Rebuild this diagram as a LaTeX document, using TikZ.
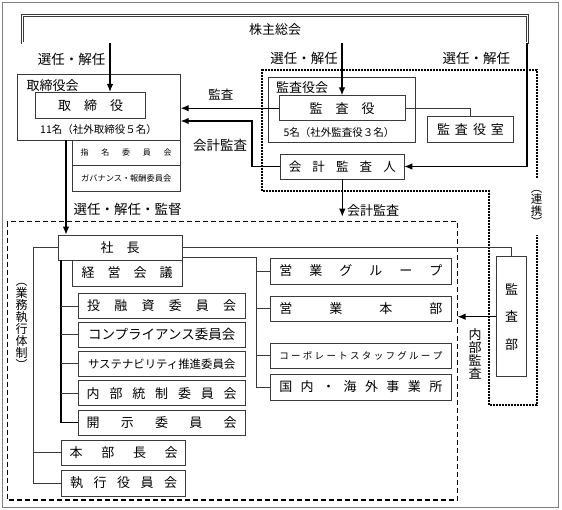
\documentclass[tikz,border=0pt]{standalone}
\usepackage{fontspec}
\setmainfont{Noto Sans CJK JP}
\usetikzlibrary{arrows.meta}

\definecolor{boxline}{HTML}{3A3A3A}
\newcommand{\spr}[2]{\makebox[#1][s]{#2}}
\newcommand{\fs}[1]{\fontsize{#1}{#1}\selectfont}

\begin{document}
\begin{tikzpicture}[x=1pt,y=-1pt,
    box/.style={draw=boxline, line width=0.7pt, inner sep=0pt, font=\fs{13}},
    lbl/.style={inner sep=0pt, font=\fs{13}},
    vtext/.style={inner sep=0pt, align=center, font=\fs{13}},
    arr/.style={line width=1.2pt, -{Latex[length=8pt,width=6.5pt]}},
    conn/.style={draw=boxline, line width=0.7pt}]
            \useasboundingbox (0,0) rectangle (562,510);
            \draw[gray, line width=1pt] (2.5,2.5) rectangle (558,507.5);

            % top
            \node[box, double, double distance=1.5pt, line width=0.6pt, minimum width=505pt, minimum height=27.3pt] (share) at (275,29.3) {株主総会};

            \node[box, minimum width=163pt, minimum height=66pt] (tbdg) at (98.8,107) {};
            \node[lbl, anchor=west] (tbdgl) at (26.5,85.5) {取締役会};
            \node[box, minimum width=110pt, minimum height=26pt] (tbd) at (90.7,105.3) {取　締　役};
            \node[lbl, font=\fs{10.5}] (tbdn) at (98.5,130) {11名（社外取締役５名）};
            \node[box, font=\fs{8}, minimum width=108.3pt, minimum height=25.7pt] (nomi) at (126.2,152.8) {\spr{91pt}{指\hfill 名\hfill 委\hfill 員\hfill 会}};
            \node[box, font=\fs{8.2}, minimum width=108.3pt, minimum height=25.3pt] (gov) at (126.2,178.4) {ガバナンス・報酬委員会};

            \node[box, minimum width=147.4pt, minimum height=64.7pt] (kyg) at (342,109.7) {};
            \node[lbl, anchor=west] (kygl) at (276,87.5) {監査役会};
            \node[box, minimum width=126pt, minimum height=25pt] (ksy) at (342,108.2) {監　査　役};
            \node[lbl, font=\fs{10.5}] (ksyn) at (339,132.7) {5名（社外監査役３名）};
            \node[box, minimum width=85.6pt, minimum height=25.3pt] (kss) at (470.5,129.3) {\spr{67pt}{監\hfill 査\hfill 役\hfill 室}};
            \node[box, font=\fs{12.5}, minimum width=123.3pt, minimum height=25pt] (kkn) at (342.3,166.5) {\spr{107pt}{会\hfill 計\hfill 監\hfill 査\hfill 人}};

            % execution
            \node[box, minimum width=124pt, minimum height=25pt] (shacho) at (120,247.5) {社　長};
            \node[box, minimum width=110pt, minimum height=26pt] (keiei) at (127,273) {経　営　会　議};
            \node[box, minimum width=166.7pt, minimum height=25.5pt] (tyk) at (161.7,306) {\spr{149pt}{投\hfill 融\hfill 資\hfill 委\hfill 員\hfill 会}};
            \node[box, font=\fs{13.5}, minimum width=166.7pt, minimum height=25.5pt] (cmp) at (161.7,334.8) {コンプライアンス委員会};
            \node[box, font=\fs{11.4}, minimum width=166.7pt, minimum height=25.5pt] (sus) at (161.7,363.8) {サステナビリティ推進委員会};
            \node[box, minimum width=166.7pt, minimum height=25pt] (nai) at (161.7,393.2) {\spr{150pt}{内\hfill 部\hfill 統\hfill 制\hfill 委\hfill 員\hfill 会}};
            \node[box, minimum width=166.7pt, minimum height=25.5pt] (kaiji) at (161.7,422.8) {\spr{150pt}{開\hfill 示\hfill 委\hfill 員\hfill 会}};
            \node[box, minimum width=124pt, minimum height=25pt] (hbc) at (123.7,452.5) {\spr{108pt}{本\hfill 部\hfill 長\hfill 会}};
            \node[box, minimum width=124pt, minimum height=26pt] (sky) at (123.7,483) {\spr{107pt}{執\hfill 行\hfill 役\hfill 員\hfill 会}};

            \node[box, minimum width=181.7pt, minimum height=26pt] (eg) at (360.8,271) {\spr{163pt}{営\hfill 業\hfill グ\hfill ル\hfill ー\hfill プ}};
            \node[box, minimum width=181.7pt, minimum height=25.7pt] (eh) at (360.8,308.8) {\spr{163pt}{営\hfill 業\hfill 本\hfill 部}};
            \node[box, font=\fs{9.5}, minimum width=181.7pt, minimum height=25pt] (csg) at (360.8,355.5) {\spr{163pt}{コ\hfill ー\hfill ポ\hfill レ\hfill ー\hfill ト\hfill ス\hfill タ\hfill ッ\hfill フ\hfill グ\hfill ル\hfill ー\hfill プ}};
            \node[box, minimum width=181.7pt, minimum height=26pt] (kkj) at (360.8,387) {\spr{163pt}{国\hfill 内\hfill ・\hfill 海\hfill 外\hfill 事\hfill 業\hfill 所}};
            \node[box, vtext, font=\fontsize{13}{27.5}\selectfont, minimum width=30pt, minimum height=120pt] (kansabu) at (511.7,316.7) {監\\査\\部};

            % labels
            \node[lbl, font=\fs{13.5}] (sn1) at (71.5,59) {選任・解任};
            \node[lbl, font=\fs{13.5}] (sn2) at (304.2,58.3) {選任・解任};
            \node[lbl, font=\fs{13.5}] (sn3) at (476.3,58.3) {選任・解任};
            \node[lbl, font=\fs{12.5}] (ks1) at (220.8,95) {監査};
            \node[lbl, font=\fs{13.5}] (kk1) at (220,145) {会計監査};
            \node[lbl, font=\fs{13.5}] (sk) at (127.5,209) {選任・解任・監督};
            \node[lbl, anchor=west] (kk2) at (347,210.7) {会計監査};
            \node[vtext, font=\fs{11.5}] (renkei) at (536.7,208.3) {︵\\連\\携\\︶};
            \node[vtext, font=\fs{12}] (gyomu) at (21.7,326) {︵\\業\\務\\執\\行\\体\\制\\︶};
            \node[vtext] (naibu) at (475,354) {内\\部\\監\\査};

            % frames
            \coordinate (exNW) at (7.3,221.7);
            \coordinate (exSE) at (457.5,500);
            \draw[line width=1.1pt, dash pattern=on 5pt off 3pt] (exNW) rectangle (exSE);
            \draw[line width=2pt, dash pattern=on 2pt off 1pt] (536.7,178) -- (536.7,70) -- (262.3,70) -- (262.3,190.7) -- (489.3,190.7) -- (489.3,405) -- (536.7,405) -- (536.7,235);

            % arrows
            \draw[arr] (110,0 |- share.south) -- (110,0 |- tbd.north);
            \draw[arr] (ksy.north |- share.south) -- (ksy.north);
            \draw[arr] (527,0 |- share.south) |- (kkn.east);
            \draw[arr] (ksy.west) -- (ksy.west -| tbdg.east);
            \coordinate (kkc) at (252,121);
            \draw[arr] (kkn.west) -| (kkc) -- (kkc -| tbdg.east);
            \draw[conn] (ksy.east) -| (kss.north);
            \coordinate (kkT) at (342.3,216.7);
            \draw[arr] (kkn.south) -- (kkT);
            \draw[arr] (66,0 |- tbdg.south) -- (66,0 |- shacho.north);

            % trees
            \coordinate (cl) at (61,0 |- shacho.south);
            \draw[line width=1.1pt] (cl) |- (kaiji.west);
            \foreach \b in {tyk,cmp,sus,nai}
                \draw[conn] (cl |- \b.west) -- (\b.west);
            \coordinate (ol) at (33,0 |- shacho.west);
            \draw[conn] (shacho.west) -- (ol) |- (sky.west);
            \draw[conn] (ol |- hbc.west) -- (hbc.west);
            \draw[conn] (shacho.east) -| (kansabu.north);
            \coordinate (rl) at (256.7,257);
            \draw[conn] (rl -| shacho.east) -- (rl) |- (kkj.west);
            \foreach \b in {eg,eh,csg}
                \draw[conn] (rl |- \b.west) -- (\b.west);
            \draw[arr] (kansabu.west) -- (kansabu.west -| exSE);
        \end{tikzpicture}
\end{document}
